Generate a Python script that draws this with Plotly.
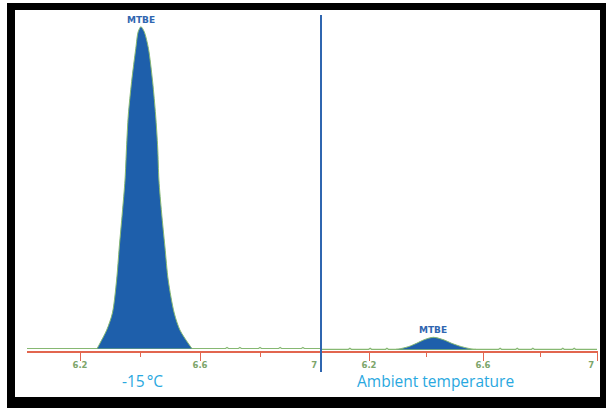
import plotly.graph_objects as go

W, H = 606, 408

# ---------------- data ----------------
# retention time (min) / signal (arbitrary units) for the -15 °C run
left_peak_t = [6.257, 6.267, 6.289, 6.308, 6.322, 6.331, 6.341, 6.350, 6.355, 6.361,
               6.372, 6.386, 6.394, 6.403, 6.414, 6.428, 6.442, 6.452, 6.459, 6.463,
               6.472, 6.483, 6.494, 6.514, 6.533, 6.560, 6.573]
left_peak_y = [2.2, 7.7, 20.7, 37.7, 70.7, 104, 137.7, 170.7, 202.7, 235.7,
               269, 302.4, 319, 324, 319, 302.4, 269, 235.7, 202.7, 170.7,
               137.7, 104, 70.7, 37.7, 20.7, 7.7, 2.2]
left_base_t = [6.023, 6.257, 6.573, 6.685, 6.690, 6.695, 6.728, 6.733, 6.738,
               6.795, 6.800, 6.805, 6.862, 6.867, 6.872, 6.938, 6.943, 6.948, 7.003]
left_base_y = [2.2, 2.2, 2.2, 2.2, 3.2, 2.2, 2.2, 3.2, 2.2,
               2.2, 3.2, 2.2, 2.2, 3.2, 2.2, 2.2, 3.2, 2.2, 2.2]

# Ambient temperature run
right_peak_t = [6.295, 6.303, 6.338, 6.367, 6.391, 6.426, 6.464, 6.490, 6.525, 6.566, 6.575]
right_peak_y = [1.4, 1.6, 4.0, 7.4, 10.7, 13.4, 10.7, 7.4, 4.0, 1.4, 1.4]
right_base_t = [6.032, 6.128, 6.133, 6.138, 6.199, 6.204, 6.209, 6.258, 6.263, 6.268, 6.295,
                6.575, 6.655, 6.660, 6.665, 6.715, 6.720, 6.725, 6.770, 6.775, 6.780,
                6.875, 6.880, 6.885, 6.915, 6.920, 6.925, 7.0]
right_base_y = [1.4, 1.4, 2.4, 1.4, 1.4, 2.4, 1.4, 1.4, 2.4, 1.4, 1.4,
                1.4, 1.4, 2.4, 1.4, 1.4, 2.4, 1.4, 1.4, 2.4, 1.4,
                1.4, 2.4, 1.4, 1.4, 2.4, 1.4, 1.4]

tick_vals = [6.2, 6.6, 7.0]
tick_text = ["6.2", "6.6", "7\u2007\u2007"]
minor_vals = [6.4, 6.8]
peak_label = "MTBE"
left_title = "-15\u202f°C"
right_title = "Ambient temperature"

# ---------------- styles ----------------
FILL = "#1e5fab"
GREEN = "#86b872"
RED = "#e2664f"
TICKTXT = "#7da56b"
LBLUE = "#29a8e0"
DBLUE = "#2f66b0"

fig = go.Figure()

for t, y, xa in [(left_base_t, left_base_y, "x"), (right_base_t, right_base_y, "x2")]:
    fig.add_trace(go.Scatter(x=t, y=y, mode="lines", xaxis=xa, yaxis="y",
                             line=dict(color=GREEN, width=1.2), hoverinfo="skip",
                             showlegend=False))

for t, y, xa in [(left_peak_t, left_peak_y, "x"), (right_peak_t, right_peak_y, "x2")]:
    fig.add_trace(go.Scatter(x=t, y=y, mode="lines", xaxis=xa, yaxis="y",
                             fill="toself", fillcolor=FILL,
                             line=dict(color=GREEN, width=1, shape="spline", smoothing=0.8),
                             hoverinfo="skip", showlegend=False))

def px_x(p):
    return p / W

def px_y(p):
    return 1 - p / H

axis_common = dict(
    tickmode="array", tickvals=tick_vals, ticktext=tick_text,
    ticks="outside", ticklen=8, tickwidth=1.2, tickcolor=RED,
    showline=True, linecolor=RED, linewidth=1.6,
    showgrid=False, zeroline=False, automargin=False,
    tickfont=dict(family="DejaVu Sans", size=8.5, color=TICKTXT, weight="bold"),
    ticklabelstandoff=-3,
    minor=dict(tickmode="array", tickvals=minor_vals, ticks="outside",
               ticklen=4, tickwidth=1.2, tickcolor=RED, showgrid=False),
    anchor="y", fixedrange=True,
)

fig.update_layout(
    template="none",
    width=W, height=H, autosize=False,
    margin=dict(l=0, r=0, t=0, b=0, autoexpand=False),
    paper_bgcolor="white", plot_bgcolor="rgba(0,0,0,0)",
    xaxis=dict(domain=[px_x(27), px_x(321)], range=[6.0233, 7.0033], **axis_common),
    xaxis2=dict(domain=[px_x(321), px_x(598)], range=[6.0316, 7.0035], **axis_common),
    yaxis=dict(domain=[px_y(350.7), 1], range=[0, 350.7], visible=False,
               fixedrange=True, automargin=False),
    showlegend=False,
)

# frame
fig.add_shape(type="rect", xref="paper", yref="paper", layer="below",
              x0=px_x(7), x1=1, y0=0, y1=px_y(3), fillcolor="black", line=dict(width=0))
fig.add_shape(type="rect", xref="paper", yref="paper", layer="below",
              x0=px_x(15), x1=px_x(600), y0=px_y(397), y1=px_y(10),
              fillcolor="white", line=dict(width=0))
# divider
fig.add_shape(type="line", xref="paper", yref="paper", layer="above",
              x0=px_x(321), x1=px_x(321), y0=px_y(372), y1=px_y(15),
              line=dict(color=DBLUE, width=2))

# peak labels
fig.add_annotation(x=left_peak_t[left_peak_y.index(max(left_peak_y))], y=max(left_peak_y),
                   xref="x", yref="y", text=peak_label, showarrow=False,
                   yanchor="bottom", yshift=0,
                   font=dict(family="DejaVu Sans", size=9, color=DBLUE, weight="bold"))
fig.add_annotation(x=right_peak_t[right_peak_y.index(max(right_peak_y))], y=max(right_peak_y),
                   xref="x2", yref="y", text=peak_label, showarrow=False,
                   yanchor="bottom", yshift=0,
                   font=dict(family="DejaVu Sans", size=9, color=DBLUE, weight="bold"))

# run titles
fig.add_annotation(x=px_x(142), y=px_y(381), xref="paper", yref="paper",
                   text=left_title, showarrow=False, xanchor="center", yanchor="middle",
                   font=dict(family="Open Sans", size=15.5, color=LBLUE))
fig.add_annotation(x=px_x(435), y=px_y(381), xref="paper", yref="paper",
                   text=right_title, showarrow=False, xanchor="center", yanchor="middle",
                   font=dict(family="Open Sans", size=15.5, color=LBLUE))

fig.write_html("out.html",
               config={"responsive": False, "displayModeBar": False},
               post_script="document.body.style.margin='0';"
                           "document.documentElement.style.overflow='hidden';"
                           "document.body.style.overflow='hidden';")
